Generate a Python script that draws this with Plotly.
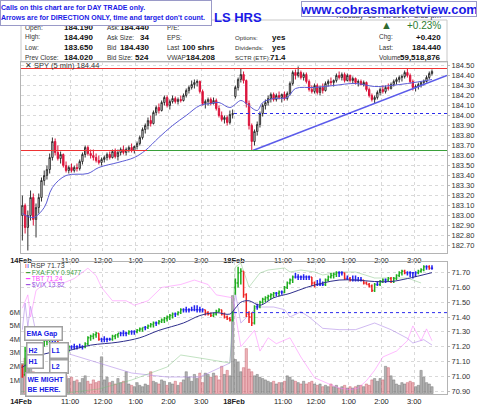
import plotly.graph_objects as go

# ---------------------------------------------------------------- data
tick_pos = [-0.5, 17.5, 29.5, 41.5, 53.5, 65.5, 77.5, 95.5, 107.5, 119.5, 131.5, 143.5]
tick_text = ["<b>14Feb</b>", "11:00", "12:00", "1:00", "2:00", "3:00", "<b>18Feb</b>",
             "11:00", "12:00", "1:00", "2:00", "3:00"]

spy_ticks = [182.70, 182.80, 182.90, 183.00, 183.10, 183.20, 183.30, 183.40, 183.50, 183.60,
             183.70, 183.80, 183.90, 184.00, 184.10, 184.20, 184.30, 184.40, 184.50]
rsp_ticks = [70.90, 71.00, 71.10, 71.20, 71.30, 71.40, 71.50, 71.60, 71.70]
vol_ticks = [1e6, 2e6, 3e6, 4e6, 5e6, 6e6]
vol_tick_text = ["1M", "2M", "3M", "4M", "5M", "6M"]

spy_open = [183.00, 183.10, 182.88, 183.00, 183.18, 182.96, 183.08, 183.18, 183.35, 183.40,
            183.46, 183.58, 183.74, 183.63, 183.57, 183.61, 183.50, 183.45, 183.48, 183.45,
            183.48, 183.47, 183.54, 183.61, 183.68, 183.62, 183.60, 183.58, 183.55, 183.53,
            183.56, 183.58, 183.61, 183.58, 183.64, 183.59, 183.63, 183.66, 183.63, 183.66,
            183.68, 183.65, 183.69, 183.72, 183.78, 183.86, 183.90, 183.95, 183.92, 184.03,
            184.08, 184.05, 184.13, 184.18, 184.10, 184.14, 184.17, 184.14, 184.16, 184.15,
            184.20, 184.25, 184.28, 184.31, 184.33, 184.34, 184.24, 184.12, 184.14, 184.16,
            184.12, 184.15, 184.07, 184.00, 183.96, 183.98, 183.93, 184.01,
            184.19, 184.28, 184.36, 184.41, 184.35, 184.12, 183.90, 183.74, 183.84, 183.91,
            184.02, 184.10, 184.13, 184.17, 184.21, 184.16, 184.20, 184.18, 184.21, 184.17,
            184.22, 184.32, 184.43, 184.40, 184.43, 184.38, 184.41, 184.34, 184.26, 184.24,
            184.30, 184.23, 184.28, 184.25, 184.32, 184.34, 184.33, 184.35, 184.40, 184.38,
            184.41, 184.35, 184.40, 184.35, 184.37, 184.33, 184.34, 184.31, 184.33, 184.26,
            184.20, 184.16, 184.18, 184.23, 184.26, 184.24, 184.28, 184.27, 184.31, 184.34,
            184.36, 184.38, 184.39, 184.43, 184.40, 184.34, 184.28, 184.29, 184.31, 184.33,
            184.34, 184.38, 184.42]
spy_high = [183.20, 183.12, 183.05, 183.25, 183.22, 183.12, 183.22, 183.38, 183.45, 183.50,
            183.62, 183.78, 183.77, 183.70, 183.64, 183.62, 183.54, 183.50, 183.52, 183.50,
            183.52, 183.56, 183.63, 183.70, 183.70, 183.66, 183.66, 183.62, 183.60, 183.58,
            183.60, 183.63, 183.64, 183.66, 183.67, 183.66, 183.68, 183.70, 183.68, 183.70,
            183.72, 183.70, 183.74, 183.80, 183.88, 183.92, 183.98, 184.00, 184.05, 184.10,
            184.12, 184.15, 184.20, 184.20, 184.16, 184.20, 184.19, 184.18, 184.20, 184.22,
            184.27, 184.30, 184.35, 184.36, 184.36, 184.35, 184.26, 184.16, 184.18, 184.18,
            184.18, 184.17, 184.10, 184.04, 184.00, 184.00, 184.05, 184.06,
            184.30, 184.38, 184.47, 184.44, 184.36, 184.15, 183.92, 183.86, 183.94, 184.04,
            184.12, 184.16, 184.20, 184.23, 184.23, 184.22, 184.24, 184.22, 184.24, 184.24,
            184.34, 184.45, 184.46, 184.49, 184.45, 184.43, 184.43, 184.36, 184.30, 184.32,
            184.32, 184.30, 184.32, 184.34, 184.36, 184.38, 184.36, 184.42, 184.44, 184.43,
            184.43, 184.42, 184.41, 184.39, 184.38, 184.36, 184.36, 184.35, 184.34, 184.28,
            184.22, 184.20, 184.25, 184.28, 184.30, 184.30, 184.32, 184.33, 184.36, 184.38,
            184.40, 184.41, 184.45, 184.47, 184.42, 184.36, 184.31, 184.33, 184.34, 184.36,
            184.40, 184.44, 184.46]
spy_low = [182.75, 182.82, 182.65, 182.95, 182.90, 182.78, 183.02, 183.14, 183.30, 183.36,
           183.42, 183.55, 183.60, 183.55, 183.52, 183.48, 183.43, 183.42, 183.43, 183.43,
           183.44, 183.45, 183.51, 183.58, 183.60, 183.57, 183.55, 183.53, 183.51, 183.50,
           183.53, 183.55, 183.56, 183.57, 183.57, 183.55, 183.60, 183.61, 183.60, 183.63,
           183.63, 183.62, 183.66, 183.70, 183.76, 183.82, 183.86, 183.89, 183.91, 184.00,
           184.02, 184.04, 184.10, 184.08, 184.06, 184.12, 184.12, 184.11, 184.13, 184.14,
           184.18, 184.22, 184.26, 184.27, 184.29, 184.22, 184.10, 184.07, 184.10, 184.10,
           184.11, 184.05, 183.98, 183.94, 183.92, 183.90, 183.91, 183.97,
           184.17, 184.25, 184.33, 184.32, 184.08, 183.86, 183.65, 183.70, 183.80, 183.88,
           183.99, 184.06, 184.10, 184.13, 184.14, 184.14, 184.16, 184.13, 184.15, 184.15,
           184.20, 184.30, 184.36, 184.38, 184.36, 184.35, 184.32, 184.24, 184.22, 184.22,
           184.21, 184.20, 184.22, 184.24, 184.29, 184.30, 184.29, 184.33, 184.36, 184.35,
           184.33, 184.34, 184.33, 184.32, 184.31, 184.29, 184.30, 184.29, 184.24, 184.18,
           184.14, 184.12, 184.16, 184.20, 184.22, 184.22, 184.25, 184.26, 184.29, 184.31,
           184.33, 184.34, 184.37, 184.38, 184.32, 184.25, 184.24, 184.26, 184.28, 184.30,
           184.33, 184.36, 184.40]
spy_close = [183.10, 182.88, 183.00, 183.18, 182.96, 183.08, 183.18, 183.35, 183.40, 183.46,
             183.58, 183.74, 183.63, 183.57, 183.61, 183.50, 183.45, 183.48, 183.45, 183.48,
             183.47, 183.54, 183.61, 183.68, 183.62, 183.60, 183.58, 183.55, 183.53, 183.56,
             183.58, 183.61, 183.58, 183.64, 183.59, 183.63, 183.66, 183.63, 183.66, 183.68,
             183.65, 183.69, 183.72, 183.78, 183.86, 183.90, 183.95, 183.92, 184.03, 184.08,
             184.05, 184.13, 184.18, 184.10, 184.14, 184.17, 184.14, 184.16, 184.15, 184.20,
             184.25, 184.28, 184.31, 184.33, 184.34, 184.24, 184.12, 184.14, 184.16, 184.12,
             184.15, 184.07, 184.00, 183.96, 183.98, 183.93, 184.01, 184.02,
             184.28, 184.36, 184.41, 184.35, 184.12, 183.90, 183.74, 183.84, 183.91, 184.02,
             184.10, 184.13, 184.17, 184.21, 184.16, 184.20, 184.18, 184.21, 184.17, 184.22,
             184.32, 184.43, 184.40, 184.43, 184.38, 184.41, 184.34, 184.26, 184.24, 184.30,
             184.23, 184.28, 184.25, 184.32, 184.34, 184.33, 184.35, 184.40, 184.38, 184.41,
             184.35, 184.40, 184.35, 184.37, 184.33, 184.34, 184.31, 184.33, 184.26, 184.20,
             184.16, 184.18, 184.23, 184.26, 184.24, 184.28, 184.27, 184.31, 184.34, 184.36,
             184.38, 184.39, 184.43, 184.40, 184.34, 184.28, 184.29, 184.31, 184.33, 184.34,
             184.38, 184.42, 184.44]

spy_ema_x = [0, 4, 8, 11, 16, 24, 28, 35, 41, 45, 50, 55, 60, 65, 69, 72, 76, 80, 82, 86,
             88, 92, 97, 100, 107, 114, 122, 129, 135, 141, 148, 150]
spy_ema = [183.02, 182.98, 183.08, 183.28, 183.40, 183.42, 183.48, 183.53, 183.58, 183.65,
           183.78, 183.90, 184.00, 184.10, 184.12, 184.13, 184.08, 184.15, 184.12, 184.05,
           184.13, 184.17, 184.18, 184.27, 184.28, 184.30, 184.32, 184.29, 184.30, 184.32,
           184.35, 184.36]

spy_resistance = 184.47
spy_support = 183.65
spy_prev_close = 184.02
trend_x = [84.4, 155.5]
trend_y = [183.65, 184.40]

rsp_open = [71.06, 71.01, 71.17, 71.19, 71.15, 71.18, 71.20, 71.18, 71.22, 71.24,
            71.25, 71.26, 71.26, 71.26, 71.21, 71.19, 71.18, 71.17, 71.20, 71.20,
            71.20, 71.20, 71.20, 71.20, 71.22, 71.26, 71.27, 71.28, 71.29, 71.25,
            71.25, 71.25, 71.25, 71.25, 71.27, 71.28, 71.29, 71.29, 71.29, 71.29,
            71.30, 71.30, 71.30, 71.31, 71.32, 71.33, 71.33, 71.34, 71.35, 71.36,
            71.36, 71.37, 71.38, 71.39, 71.40, 71.41, 71.42, 71.42, 71.43, 71.45,
            71.45, 71.45, 71.45, 71.45, 71.45, 71.45, 71.45, 71.45, 71.43, 71.42,
            71.41, 71.42, 71.44, 71.45, 71.42, 71.40, 71.39, 71.38,
            71.60, 71.63, 71.70, 71.71, 71.55, 71.42, 71.40, 71.36, 71.47, 71.47,
            71.50, 71.52, 71.53, 71.54, 71.55, 71.56, 71.56, 71.57, 71.57, 71.60,
            71.63, 71.65, 71.67, 71.67, 71.67, 71.67, 71.67, 71.67, 71.67, 71.63,
            71.62, 71.62, 71.62, 71.62, 71.65, 71.67, 71.68, 71.69, 71.70, 71.70,
            71.70, 71.66, 71.66, 71.65, 71.65, 71.65, 71.65, 71.65, 71.63, 71.62,
            71.61, 71.58, 71.62, 71.62, 71.64, 71.65, 71.65, 71.66, 71.64, 71.66,
            71.68, 71.70, 71.71, 71.70, 71.70, 71.70, 71.70, 71.70, 71.71, 71.72,
            71.74, 71.74, 71.73]
rsp_high = [71.08, 71.20, 71.22, 71.22, 71.20, 71.21, 71.22, 71.23, 71.25, 71.26,
            71.28, 71.27, 71.27, 71.26, 71.23, 71.20, 71.20, 71.21, 71.21, 71.22,
            71.21, 71.22, 71.21, 71.23, 71.27, 71.28, 71.29, 71.30, 71.29, 71.26,
            71.27, 71.26, 71.26, 71.28, 71.28, 71.29, 71.30, 71.31, 71.30, 71.31,
            71.31, 71.31, 71.32, 71.33, 71.33, 71.34, 71.35, 71.36, 71.37, 71.37,
            71.38, 71.39, 71.40, 71.41, 71.42, 71.43, 71.43, 71.44, 71.46, 71.46,
            71.47, 71.46, 71.47, 71.48, 71.48, 71.47, 71.46, 71.45, 71.44, 71.43,
            71.43, 71.45, 71.46, 71.45, 71.43, 71.41, 71.40, 71.44,
            71.66, 71.74, 71.73, 71.71, 71.56, 71.44, 71.43, 71.48, 71.49, 71.51,
            71.53, 71.54, 71.55, 71.56, 71.57, 71.57, 71.58, 71.58, 71.61, 71.64,
            71.66, 71.68, 71.70, 71.69, 71.68, 71.69, 71.68, 71.68, 71.67, 71.64,
            71.65, 71.66, 71.64, 71.66, 71.68, 71.70, 71.70, 71.71, 71.71, 71.71,
            71.70, 71.68, 71.67, 71.68, 71.68, 71.67, 71.67, 71.65, 71.64, 71.63,
            71.62, 71.63, 71.64, 71.65, 71.66, 71.66, 71.67, 71.67, 71.67, 71.69,
            71.71, 71.72, 71.72, 71.71, 71.71, 71.70, 71.71, 71.72, 71.73, 71.75,
            71.75, 71.75, 71.75]
rsp_low = [70.99, 71.00, 71.12, 71.13, 71.13, 71.15, 71.16, 71.17, 71.20, 71.21,
           71.22, 71.23, 71.23, 71.20, 71.18, 71.17, 71.16, 71.16, 71.18, 71.18,
           71.18, 71.19, 71.18, 71.19, 71.21, 71.24, 71.25, 71.26, 71.24, 71.23,
           71.23, 71.23, 71.24, 71.24, 71.25, 71.26, 71.27, 71.27, 71.27, 71.28,
           71.28, 71.28, 71.29, 71.30, 71.30, 71.31, 71.32, 71.33, 71.33, 71.34,
           71.35, 71.36, 71.36, 71.37, 71.38, 71.39, 71.40, 71.41, 71.42, 71.43,
           71.43, 71.43, 71.44, 71.44, 71.43, 71.43, 71.43, 71.41, 71.41, 71.40,
           71.40, 71.41, 71.43, 71.41, 71.39, 71.38, 71.37, 71.37,
           71.55, 71.60, 71.62, 71.53, 71.40, 71.36, 71.34, 71.35, 71.45, 71.46,
           71.49, 71.50, 71.51, 71.52, 71.53, 71.54, 71.54, 71.55, 71.56, 71.59,
           71.62, 71.63, 71.66, 71.65, 71.65, 71.65, 71.65, 71.65, 71.61, 71.60,
           71.61, 71.61, 71.61, 71.61, 71.64, 71.66, 71.66, 71.67, 71.67, 71.68,
           71.65, 71.65, 71.64, 71.64, 71.64, 71.64, 71.64, 71.62, 71.62, 71.60,
           71.57, 71.57, 71.61, 71.61, 71.63, 71.63, 71.64, 71.63, 71.63, 71.65,
           71.67, 71.68, 71.69, 71.68, 71.67, 71.66, 71.67, 71.69, 71.70, 71.71,
           71.72, 71.72, 71.72]
rsp_close = [71.01, 71.17, 71.19, 71.15, 71.18, 71.20, 71.18, 71.22, 71.24, 71.25,
             71.26, 71.26, 71.26, 71.21, 71.19, 71.18, 71.17, 71.20, 71.20, 71.20,
             71.20, 71.20, 71.20, 71.22, 71.26, 71.27, 71.28, 71.29, 71.25, 71.25,
             71.25, 71.25, 71.25, 71.27, 71.28, 71.29, 71.29, 71.29, 71.29, 71.30,
             71.30, 71.30, 71.31, 71.32, 71.33, 71.33, 71.34, 71.35, 71.36, 71.36,
             71.37, 71.38, 71.39, 71.40, 71.41, 71.42, 71.42, 71.43, 71.45, 71.45,
             71.45, 71.45, 71.45, 71.45, 71.45, 71.45, 71.45, 71.43, 71.42, 71.41,
             71.42, 71.44, 71.45, 71.42, 71.40, 71.39, 71.38, 71.43,
             71.63, 71.70, 71.71, 71.55, 71.42, 71.40, 71.36, 71.47, 71.47, 71.50,
             71.52, 71.53, 71.54, 71.55, 71.56, 71.56, 71.57, 71.57, 71.60, 71.63,
             71.65, 71.67, 71.67, 71.67, 71.67, 71.67, 71.67, 71.67, 71.63, 71.62,
             71.62, 71.62, 71.62, 71.65, 71.67, 71.68, 71.69, 71.70, 71.70, 71.70,
             71.66, 71.66, 71.65, 71.65, 71.65, 71.65, 71.65, 71.63, 71.62, 71.61,
             71.58, 71.62, 71.62, 71.64, 71.65, 71.65, 71.66, 71.64, 71.66, 71.68,
             71.70, 71.71, 71.70, 71.70, 71.70, 71.70, 71.70, 71.71, 71.72, 71.74,
             71.74, 71.73, 71.73]
rsp_prev_close = 71.43

rsp_ema_x = [0, 8, 16, 25, 35, 43, 50, 59, 65, 71, 76, 78, 80, 83, 87, 92, 98, 104, 110,
             116, 122, 129, 135, 141, 150]
rsp_ema = [71.06, 71.15, 71.17, 71.21, 71.23, 71.26, 71.31, 71.36, 71.41, 71.43, 71.42,
           71.46, 71.50, 71.51, 71.48, 71.53, 71.56, 71.60, 71.63, 71.65, 71.65, 71.64,
           71.64, 71.66, 71.70]

volume_m = [2.2, 2.6, 1.9, 2.0, 1.6, 1.5,
            1.4, 1.2, 1.0, 1.3, 1.1, 1.5, 1.2, 1.3, 1.1, 1.0,
            1.3, 1.1, 1.2, 0.9, 1.0,
            0.8, 1.1, 1.3, 0.9, 0.7, 1.0, 0.8, 0.9, 2.7,
            1.0, 1.2, 0.8, 0.9, 0.7, 1.1, 0.8, 0.9, 1.6,
            0.7, 0.6, 0.5, 0.8, 0.6, 0.5, 0.7, 0.6, 1.6,
            0.9, 0.8, 0.7, 1.0, 0.9, 0.6, 0.8, 0.7, 0.9, 0.6, 0.8, 1.0,
            1.6, 1.2, 0.9, 1.4, 1.1, 1.5, 0.8,
            1.5, 1.4, 1.2, 1.5, 1.3, 1.0,
            2.0, 1.4, 1.7, 1.3, 7.2,
            2.5, 2.3, 1.6, 1.9, 3.3, 1.8, 1.6, 1.3, 1.4, 1.2,
            1.1, 1.0, 0.9, 0.8, 0.9, 0.7, 0.8, 0.8, 0.9, 1.3,
            1.2, 1.0, 0.9, 0.8, 0.7, 0.9, 0.7, 0.8, 0.9, 0.7,
            0.6, 0.7, 0.5, 0.6, 0.5, 0.7, 0.5, 0.6, 0.4, 0.5,
            0.6, 0.4, 0.5, 0.4, 0.5, 0.6, 0.6, 0.5, 0.7, 0.6,
            1.0, 1.1, 0.9, 1.1, 1.0, 2.0, 1.9, 1.3, 1.0, 0.7,
            0.6, 0.8, 0.7, 0.8, 0.9, 0.8, 0.5, 0.6, 1.7, 1.2,
            0.8, 0.7, 0.5]

tbt_x = [0, 2, 3, 5, 9, 15, 19, 24, 27, 29, 33, 38, 41, 46, 51, 58, 63, 68, 71, 77,
         80, 85, 87, 90, 93, 98, 102, 107, 112, 116, 120, 123, 126, 129, 132, 137, 141,
         143, 146, 148, 150]
tbt = [71.46, 71.55, 71.40, 71.58, 71.64, 71.63, 71.66, 71.73, 71.68, 71.60, 71.51, 71.51,
       71.48, 71.51, 71.60, 71.62, 71.65, 71.62, 71.55, 71.53,
       71.20, 71.31, 71.17, 71.26, 71.22, 71.26, 71.13, 70.99, 70.95, 70.92, 70.91, 70.92,
       70.97, 71.04, 71.13, 71.17, 71.24, 71.34, 71.24, 71.32, 71.24]

vix_x = [0, 1, 2, 3, 5, 8, 12, 16, 28, 40, 53, 65, 76, 78, 80, 86, 92, 96, 98, 102, 105,
         110, 116, 122, 129, 135, 141, 143, 147, 150]
vix = [14.05, 14.45, 14.10, 14.40, 14.00, 13.90, 13.80, 13.70, 13.55, 13.40, 13.34, 13.34,
       13.55, 14.60, 14.15, 14.39, 14.39, 14.35, 14.24, 14.32, 14.24, 14.07, 14.05, 14.05,
       14.15, 14.05, 13.92, 13.85, 13.90, 13.82]

fx_x = [0, 16, 28, 40, 53, 58, 65, 76, 78, 80, 83, 87, 90, 96, 98, 102, 107, 110, 116,
        122, 129, 135, 141, 146]
fxa_fxy = [0.9260, 0.9257, 0.9265, 0.9283, 0.9309, 0.9333, 0.9327, 0.9317, 0.9509, 0.9517,
           0.9469, 0.9497, 0.9503, 0.9507, 0.9499, 0.9503, 0.9499, 0.9493, 0.9499, 0.9499,
           0.9487, 0.9487, 0.9487, 0.9477]

# ---------------------------------------------------------------- geometry helpers
W, H = 480, 406
L, R, T, B = 21, 447, 62, 394


def fx(p):
    return (p - L) / (R - L)


def fy(p):
    return (B - p) / (B - T)


FONT = "Arial, Liberation Sans, sans-serif"
BLUE_TXT = "#1a1ae6"
bar_x = list(range(len(spy_close)))

fig = go.Figure()

# ---------------------------------------------------------------- top panel
fig.add_trace(go.Candlestick(
    x=bar_x, open=spy_open, high=spy_high, low=spy_low, close=spy_close,
    increasing=dict(line=dict(color="#333333", width=1), fillcolor="#ffffff"),
    decreasing=dict(line=dict(color="#dc143c", width=1), fillcolor="#dc143c"),
    whiskerwidth=0, xaxis="x", yaxis="y", hoverinfo="skip"))
fig.add_trace(go.Scatter(x=spy_ema_x, y=spy_ema, mode="lines",
                         line=dict(color="#5c5cd6", width=1, shape="spline"),
                         xaxis="x", yaxis="y", hoverinfo="skip"))
fig.add_trace(go.Scatter(x=trend_x, y=trend_y, mode="lines",
                         line=dict(color="#5b5bea", width=1.5),
                         xaxis="x", yaxis="y", hoverinfo="skip"))

# ---------------------------------------------------------------- lower panel
vol_colors = ["rgba(224,120,130,0.55)" if c < o else "rgba(140,140,140,0.65)"
              for o, c in zip(spy_open, spy_close)]
vol_lines = ["#c05060" if c < o else "#666666" for o, c in zip(spy_open, spy_close)]
fig.add_trace(go.Bar(x=bar_x, y=[v * 1e6 for v in volume_m], width=0.85,
                     marker=dict(color=vol_colors, line=dict(color=vol_lines, width=0.4)),
                     xaxis="x2", yaxis="y2", hoverinfo="skip"))
fig.add_trace(go.Scatter(x=vix_x, y=vix, mode="lines",
                         line=dict(color="rgba(170,130,230,0.55)", width=1),
                         xaxis="x2", yaxis="y3", hoverinfo="skip"))
fig.add_trace(go.Scatter(x=fx_x, y=fxa_fxy, mode="lines",
                         line=dict(color="rgba(120,190,120,0.45)", width=1),
                         xaxis="x2", yaxis="y4", hoverinfo="skip"))
fig.add_trace(go.Scatter(x=tbt_x, y=tbt, mode="lines",
                         line=dict(color="rgba(255,120,255,0.5)", width=1),
                         xaxis="x2", yaxis="y5", hoverinfo="skip"))

groups = {"#1fae1f": [], "#ee2222": [], "#2222ee": []}
for i, c in enumerate(rsp_close):
    prev = rsp_close[i - 1] if i > 0 else rsp_open[0]
    key = "#1fae1f" if c > prev else ("#ee2222" if c < prev else "#2222ee")
    groups[key].append(i)
for col, idx in groups.items():
    fig.add_trace(go.Ohlc(
        x=[bar_x[i] for i in idx], open=[rsp_open[i] for i in idx],
        high=[rsp_high[i] for i in idx], low=[rsp_low[i] for i in idx],
        close=[rsp_close[i] for i in idx], tickwidth=0.4,
        increasing=dict(line=dict(color=col, width=1.5)),
        decreasing=dict(line=dict(color=col, width=1.5)),
        xaxis="x2", yaxis="y5", hoverinfo="skip"))
fig.add_trace(go.Scatter(x=rsp_ema_x, y=rsp_ema, mode="lines",
                         line=dict(color="#2e2e8c", width=1, shape="spline"),
                         xaxis="x2", yaxis="y5", hoverinfo="skip"))

# ---------------------------------------------------------------- shapes
shapes = [
    dict(type="rect", xref="paper", yref="paper", x0=fx(21), x1=fx(447), y0=fy(62), y1=fy(20),
         line=dict(color="#c8c8c8", width=1), layer="below"),
    dict(type="line", xref="x domain", yref="y", x0=0, x1=1, y0=spy_resistance, y1=spy_resistance,
         line=dict(color="#ee3333", width=1)),
    dict(type="line", xref="x domain", yref="y", x0=0, x1=fx(147), y0=spy_support, y1=spy_support,
         line=dict(color="#ee3333", width=1)),
    dict(type="line", xref="x domain", yref="y", x0=fx(147), x1=1, y0=spy_support, y1=spy_support,
         line=dict(color="#3aa03a", width=1)),
    dict(type="line", xref="x", yref="y", x0=tick_pos[6], x1=155.5, y0=spy_prev_close,
         y1=spy_prev_close, line=dict(color="#2b2bee", width=1, dash="dot")),
    dict(type="line", xref="x2", yref="y5", x0=tick_pos[6], x1=155.5, y0=rsp_prev_close,
         y1=rsp_prev_close, line=dict(color="#2b2bee", width=1, dash="dot")),
]

# ---------------------------------------------------------------- annotations


def txt(x, y, s, anchor="left", size=6.5, color="#333333", bold=False):
    return dict(xref="paper", yref="paper", x=fx(x), y=fy(y), xanchor=anchor, yanchor="middle",
                text=("<b>%s</b>" % s) if bold else s, showarrow=False,
                font=dict(family=FONT, size=size, color=color))


def box(cx, cy, w, h, s, size=7):
    return dict(xref="paper", yref="paper", x=fx(cx), y=fy(cy), xanchor="center", yanchor="middle",
                text="<b>%s</b>" % s, showarrow=False, align="left", width=w, height=h,
                bgcolor="#ffffff", bordercolor="#a0a0a0", borderwidth=1.5, borderpad=1,
                font=dict(family=FONT, size=size, color=BLUE_TXT))


ann = []
ann.append(txt(443, 15, "Tuesday  18 Feb 2014  3:35 pm", anchor="right", size=7.5))
rows = [27.5, 37.5, 47.3, 57]
for lab, val, y in zip(["Open:", "High:", "Low:", "Prev Close:"],
                       ["184.190", "184.490", "183.650", "184.020"], rows):
    ann.append(txt(23, y, lab))
    ann.append(txt(62, y, val, size=8, bold=True, color="#111111"))
for lab, val, y in zip(["Ask:", "Ask Size:", "Bid", "Bid Size:"],
                       ["184.440", "34", "184.430", "524"], rows):
    ann.append(txt(105, y, lab))
    ann.append(txt(151, y, val, anchor="right", size=8, bold=True, color="#111111"))
for lab, val, y in zip(["P/E:", "EPS:", "Last", "VWAP:"],
                       ["", "", "100 shrs", "184.208"], rows):
    ann.append(txt(165, y, lab))
    if val:
        ann.append(txt(217, y, val, anchor="right", size=8, bold=True, color="#111111"))
for lab, val, y in zip(["Options:", "Dividends:", "SCTR (ETF):"], ["yes", "yes", "71.4"], rows[1:]):
    ann.append(txt(233, y, lab, size=6.1))
    ann.append(txt(288, y, val, anchor="right", size=8, bold=True, color="#111111"))
for lab, val, y in zip(["Chg:", "Last:", "Volume:"], ["+0.420", "184.440", "59,518,876"], rows[1:]):
    ann.append(txt(377, y, lab))
    ann.append(txt(443, y, val, anchor="right", size=8, bold=True, color="#111111"))
ann.append(txt(443, 25.5, "+0.23%", anchor="right", size=10, color="#2e7d32"))
ann.append(txt(379, 25.5, "▲", size=11, color="#2f6a2f"))
ann.append(txt(212, 17, "LS HRS", size=13, color=BLUE_TXT, bold=True))
ann.append(dict(xref="paper", yref="paper", x=fx(389), y=fy(8.5), xanchor="center", yanchor="middle",
                text="<b>www.cobrasmarketview.com</b>", showarrow=False, width=174, height=14,
                bgcolor="#ffffff", bordercolor="#9a9ac8", borderwidth=1, borderpad=0,
                font=dict(family=FONT, size=13, color=BLUE_TXT)))
ann.append(dict(xref="paper", yref="paper", x=fx(106), y=fy(13.5), xanchor="center", yanchor="middle",
                text="<b>Calls on this chart are for DAY TRADE only.<br>"
                     "Arrows are for DIRECTION ONLY, time and target don't count.</b>",
                showarrow=False, align="left", width=210, height=24,
                bgcolor="#ffffff", bordercolor="#9a9ac8", borderwidth=1, borderpad=0,
                font=dict(family=FONT, size=7, color=BLUE_TXT)))
ann.append(txt(23, 65.5, "✕ SPY (5 min) 184.44", size=7.5))

ann.append(txt(23, 265, "<span style='color:#ee2222'>ı</span><span style='color:#2222ee'>ı</span> RSP 71.73",
               size=7, color="#333333"))
ann.append(txt(23, 272.3, "━ FXA:FXY 0.9477", size=6.6, color="#3c9a3c"))
ann.append(txt(23, 278.6, "━ TBT 71.24", size=6.6, color="#ff44ff"))
ann.append(txt(23, 284.6, "━ $VIX 13.82", size=6.6, color="#9a55e0"))

ann.append(box(43.5, 333.5, 34, 10, "EMA Gap"))
ann.append(box(35, 350, 13, 11, "H2"))
ann.append(box(59, 350.5, 15, 12, "L1"))
ann.append(box(35, 361.5, 13, 10, "H1"))
ann.append(box(59, 366.5, 15, 10, "L2"))
ann.append(box(46, 384, 37, 20, "WE MIGHT<br>BE HERE."))

# ---------------------------------------------------------------- layout
xcommon = dict(range=[-0.5, 155.5], tickvals=tick_pos, ticktext=tick_text, showgrid=True,
               gridcolor="#d9d9d9", griddash="dot", gridwidth=1, showline=True, mirror=True,
               linecolor="#b4b4b4", ticks="", zeroline=False, rangeslider=dict(visible=False),
               automargin=False, tickfont=dict(family=FONT, size=7.5, color="#222222"))
ycommon = dict(showgrid=True, gridcolor="#d9d9d9", griddash="dot", gridwidth=1, showline=True,
               mirror=True, linecolor="#b4b4b4", ticks="outside", ticklen=2, tickcolor="#bbbbbb",
               zeroline=False, automargin=False,
               tickfont=dict(family=FONT, size=7.5, color="#333333"))

fig.update_layout(
    width=W, height=H, margin=dict(l=L, r=W - R, t=T, b=H - B, autoexpand=False),
    paper_bgcolor="#ffffff", plot_bgcolor="#ffffff", showlegend=False,
    font=dict(family=FONT, size=8, color="#333333"),
    xaxis=dict(domain=[0, 1], anchor="y", **xcommon),
    xaxis2=dict(domain=[0, 1], anchor="y2", **xcommon),
    yaxis=dict(domain=[fy(252.5), 1], anchor="x", side="right", range=[182.63, 184.535],
               tickvals=spy_ticks, ticktext=["%.2f" % v for v in spy_ticks], **ycommon),
    yaxis2=dict(domain=[0, fy(262)], anchor="x2", side="left", range=[-0.037e6, 9.67e6],
                tickvals=vol_ticks, ticktext=vol_tick_text, showgrid=False, showline=False,
                zeroline=False, ticks="", automargin=False,
                tickfont=dict(family=FONT, size=7.5, color="#333333")),
    yaxis3=dict(overlaying="y2", anchor="x2", range=[13.085, 15.065], visible=False),
    yaxis4=dict(overlaying="y2", anchor="x2", range=[0.9255, 0.9519], visible=False),
    yaxis5=dict(overlaying="y2", anchor="x2", side="right", range=[70.880, 71.772],
                tickvals=rsp_ticks, ticktext=["%.2f" % v for v in rsp_ticks], **ycommon),
    shapes=shapes, annotations=ann,
)

fig.write_html("out.html", config={"displayModeBar": False},
               post_script="document.body.style.margin='0px';"
                           "document.body.style.overflow='hidden';")
